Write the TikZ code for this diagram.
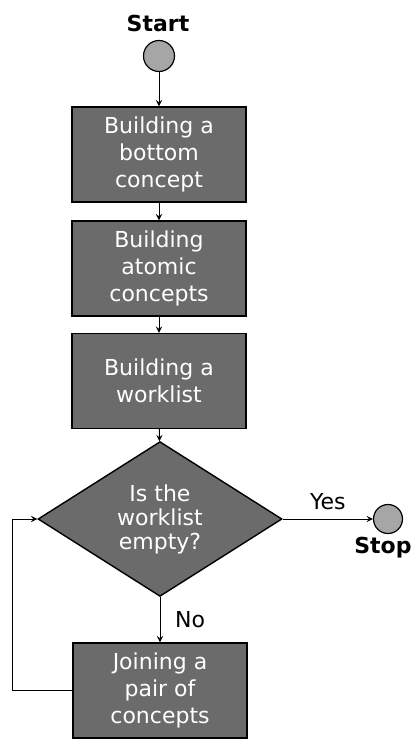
\documentclass[tikz,border=0pt]{standalone}
\usepackage{fontspec}
\setmainfont{DejaVu Sans}
\usetikzlibrary{shapes.geometric}
\begin{document}
\begin{tikzpicture}[x=0.5pt,y=0.5pt,>=stealth,
proc/.style = {draw, line width=0.7pt, fill=black!58, text=white, minimum width=87pt, minimum height=47.5pt, inner sep=0pt, align=center, font=\fontsize{11}{13.5}\selectfont},
test/.style = {draw, diamond, line width=0.7pt, fill=black!58, text=white, minimum width=122pt, minimum height=74pt, inner sep=0pt, align=center, font=\fontsize{11}{12}\selectfont},
term/.style = {draw, circle, line width=0.6pt, fill=black!35, minimum size=15.5pt, inner sep=0pt},
lbl/.style = {font=\fontsize{11}{13}\selectfont},
]
\useasboundingbox (0,0) rectangle (414,-739);
\node (start) at (159,-56)[term] {};
\node (startlbl) at (158,-23)[lbl,font=\bfseries\fontsize{11}{13}\selectfont] {Start};
\node (bottom) at (159,-154.5)[proc] {Building a\\bottom\\concept};
\node (atomic) at (159,-268.5)[proc] {Building\\atomic\\concepts};
\node (work) at (159,-381)[proc] {Building a\\worklist};
\node (empty) at (160,-519)[test] {Is the\\worklist\\empty?};
\node (stop) at (388,-519)[term,minimum size=14.5pt] {};
\node (stoplbl) at (383,-548)[lbl,font=\bfseries\fontsize{11}{13}\selectfont] {Stop};
\node (join) at (160,-690.5)[proc] {Joining a\\pair of\\concepts};
\draw[->] (start)--(bottom);
\draw[->] (bottom)--(atomic);
\draw[->] (atomic)--(work);
\draw[->] (work)--(empty);
\draw[->] (empty)--node[lbl,above=1pt]{Yes}(stop);
\draw[->] (empty)--node[lbl,right=4pt]{No}(join);
\draw[->] (join.west)--++(-60,0)|-(empty.west);
\end{tikzpicture}
\end{document}
